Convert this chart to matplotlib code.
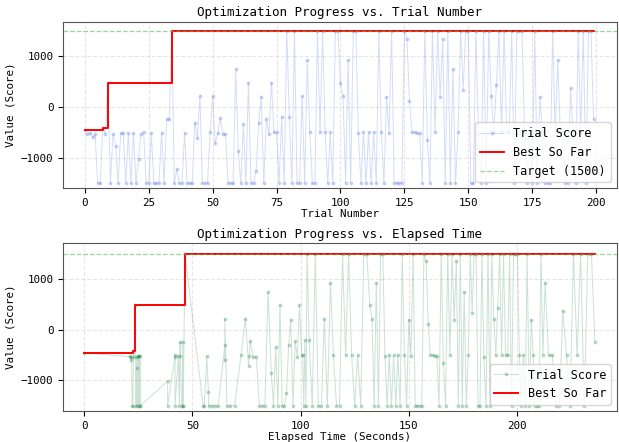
import numpy as np
import matplotlib
matplotlib.use("Agg")
import matplotlib.pyplot as plt

plt.rcParams['font.family'] = ['DejaVu Sans Mono']
plt.rcParams['font.size'] = 7.8

# score of each trial
scores = [
    -455, -530, -515, -595, -530, -1500, -1500, -410, -530, 480,
    -1500, -530, -760, -1500, -515, -515, -1500, -515, -1500, -515,
    -1500, -1015, -530, -500, -1500, -1500, -520, -1500, -1500, -1500,
    -520, -1500, -240, -240, 1500, -1500, -1225, -1500, -1500, -520,
    -1500, -1500, -1500, -305, -600, 220, -1500, -1500, -1500, -500,
    220, -710, -515, -220, -530, -530, -1500, -1500, -1500, 745,
    -863, -1500, -335, -1500, 483, -1500, -1500, -1250, -305, 200,
    -1500, -230, -530, 483, -500, -500, -1500, -200, -1500, 1500,
    -200, -1500, 1500, -1500, -1500, 220, -1500, 930, -500, -1500,
    -1500, 1500, -500, 1500, -500, -1500, -500, -1500, 1500, 1500,
    483, 220, -1500, 930, -1500, 1500, 1500, -515, -1500, -500,
    -1500, -500, -1500, -500, -1500, 1500, -500, -1500, 200, -515,
    1500, -1500, -1500, -1500, -1500, 1500, 1350, 122, -500, -500,
    -515, -515, -1500, 1500, -650, -1500, 1500, -500, 1500, 200,
    1350, -1500, 1500, -1500, 745, -1500, -500, 1500, 340, 1500,
    1500, -1500, -1500, 1500, -530, -1500, 1500, -1500, 1500, 220,
    -500, 440, 1500, -500, 1500, -500, -500, 1500, -1500, 1500,
    1500, 1500, -500, -1500, -500, -1500, 1500, -1500, 200, -500,
    -1500, -1500, -1500, 1500, -500, 930, -500, -500, -1500, -1500,
    375, -500, -1500, 1500, -500, 1500, -1500, 1500, 1500, -240,
]

# elapsed seconds at which each trial finished (bottom panel)
times = [
    0.0, 21.0, 21.3, 21.6, 21.9, 22.2, 22.5, 22.8, 23.1, 23.6,
    24.0, 24.2, 24.4, 24.6, 24.8, 25.0, 25.2, 25.4, 25.6, 25.8,
    26.0, 38.6, 42.0, 42.0, 38.6, 42.0, 43.5, 44.0, 45.0, 45.5,
    44.5, 45.8, 44.3, 45.5, 46.6, 55.0, 57.4, 55.5, 57.5, 56.7,
    59.0, 60.5, 62.0, 65.0, 65.0, 65.0, 66.0, 67.5, 69.5, 72.5,
    74.5, 76.0, 76.3, 76.7, 78.0, 79.5, 81.0, 82.0, 83.5, 85.0,
    86.5, 87.5, 88.5, 89.5, 90.5, 91.5, 92.5, 93.5, 94.5, 95.5,
    96.5, 97.5, 98.5, 99.5, 100.5, 101.0, 101.5, 102.0, 102.5, 103.0,
    104.0, 105.4, 106.8, 108.2, 109.6, 111.0, 112.4, 113.8, 115.2, 116.6,
    118.0, 119.4, 120.8, 122.2, 123.6, 125.0, 126.4, 127.8, 129.2, 130.6,
    132.0, 133.0, 134.0, 135.0, 136.0, 137.0, 138.0, 139.0, 140.0, 141.0,
    142.0, 143.0, 144.0, 145.0, 146.0, 147.0, 148.0, 149.0, 150.0, 151.0,
    152.0, 153.0, 154.0, 155.0, 156.0, 157.0, 158.0, 159.0, 160.0, 161.0,
    162.0, 163.0, 164.0, 165.0, 166.0, 167.0, 168.0, 169.0, 170.0, 171.0,
    172.0, 172.9, 173.8, 174.7, 175.6, 176.6, 177.5, 178.4, 179.3, 180.2,
    181.1, 182.0, 182.9, 183.8, 184.7, 185.7, 186.6, 187.5, 188.4, 189.3,
    190.2, 191.1, 192.0, 192.9, 193.8, 194.7, 195.7, 196.6, 197.5, 198.4,
    199.3, 200.2, 201.1, 202.0, 202.9, 203.8, 204.7, 205.7, 206.6, 207.5,
    208.4, 209.3, 210.2, 211.1, 212.0, 213.0, 214.6, 216.3, 217.9, 219.6,
    221.2, 222.9, 224.5, 226.1, 227.8, 229.4, 231.1, 232.7, 234.4, 236.0,
]

target = 1500

trials = np.arange(len(scores))
scores = np.array(scores, dtype=float)
times = np.array(times, dtype=float)
best = np.maximum.accumulate(scores)

order = np.argsort(times, kind="stable")
t_sorted = times[order]
s_sorted = scores[order]
best_t = np.maximum.accumulate(s_sorted)

fig = plt.figure(figsize=(6.19, 4.42), dpi=100)
ax1 = fig.add_axes([0.102, 0.574, 0.894, 0.377])
ax2 = fig.add_axes([0.102, 0.070, 0.894, 0.380])

# top: score vs trial number
ax1.plot(trials, scores, color="#6f8fe6", alpha=0.3, lw=0.7,
         marker="o", ms=1.8, label="Trial Score")
ax1.step(trials, best, where="post", color="red", lw=1.4, label="Best So Far")
ax1.axhline(target, color="#5cb85c", ls="--", lw=0.9, alpha=0.6,
            label="Target (%d)" % target)
ax1.set_xlim(-8.5, 208)
ax1.set_ylim(-1600, 1683)
ax1.set_xticks([0, 25, 50, 75, 100, 125, 150, 175, 200])
ax1.set_yticks([-1000, 0, 1000])
ax1.set_title("Optimization Progress vs. Trial Number", fontsize=9, pad=4)
ax1.set_xlabel("Trial Number", labelpad=1)
ax1.set_ylabel("Value (Score)")
ax1.grid(True, ls="--", alpha=0.3)
ax1.legend(loc="lower right", framealpha=0.8, fontsize=8.5)

# bottom: score vs elapsed time
ax2.plot(t_sorted, s_sorted, color="#2e8b57", alpha=0.25, lw=0.7,
         marker="o", ms=1.8, label="Trial Score")
ax2.step(t_sorted, best_t, where="post", color="red", lw=1.4, label="Best So Far")
ax2.axhline(target, color="#5cb85c", ls="--", lw=0.9, alpha=0.6)
ax2.set_xlim(-9.7, 246)
ax2.set_ylim(-1605, 1712)
ax2.set_xticks([0, 50, 100, 150, 200])
ax2.set_yticks([-1000, 0, 1000])
ax2.set_title("Optimization Progress vs. Elapsed Time", fontsize=9, pad=4)
ax2.set_xlabel("Elapsed Time (Seconds)", labelpad=1)
ax2.set_ylabel("Value (Score)")
ax2.grid(True, ls="--", alpha=0.3)
ax2.legend(loc="lower right", framealpha=0.8, fontsize=8.5)

for ax in (ax1, ax2):
    for sp in ax.spines.values():
        sp.set_color("#555555")

fig.savefig("out.png", dpi=100)
